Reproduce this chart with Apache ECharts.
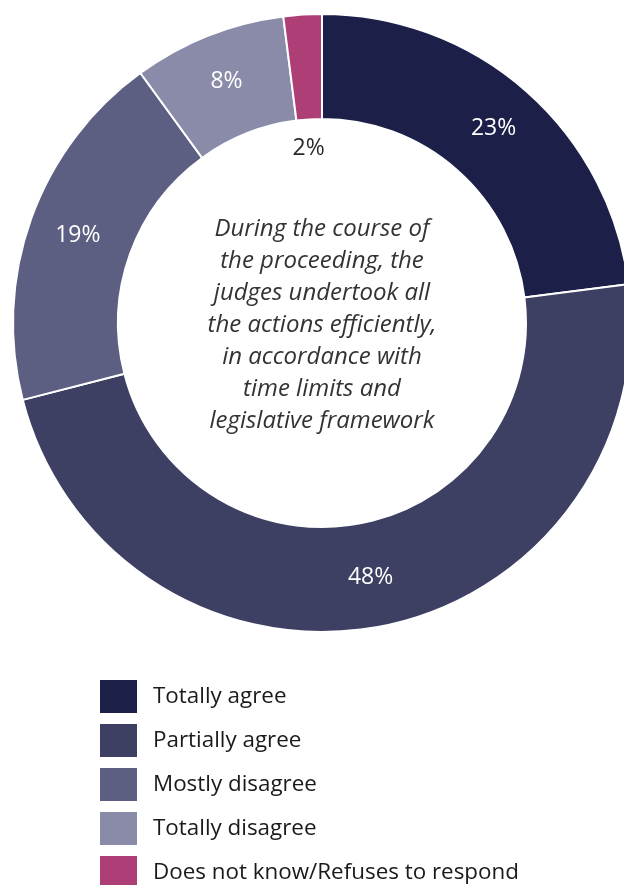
<!DOCTYPE html>
<html>
<head>
<meta charset="utf-8">
<script src="https://cdn.jsdelivr.net/npm/echarts@6/dist/echarts.min.js"></script>
<style>
  html, body { margin: 0; padding: 0; background: #ffffff; }
  #chart { width: 624px; height: 885px; }
</style>
</head>
<body>
<div id="chart"></div>
<script>
// Survey answers, in the order they run clockwise from 12 o'clock
const categories = [
  'Totally agree',
  'Partially agree',
  'Mostly disagree',
  'Totally disagree',
  'Does not know/Refuses to respond'
];
const shares = [23, 48, 19, 8, 2];
const colors = ['#1c1f48', '#3d3f63', '#5d5f82', '#898ba8', '#ae3e76'];
const question = [
  'During the course of',
  'the proceeding, the',
  'judges undertook all',
  'the actions efficiently,',
  'in accordance with',
  'time limits and',
  'legislative framework'
];

const FONT = '"Open Sans", "Noto Sans", sans-serif';
const CX = 322, CY = 323;

const pieData = categories.map((name, i) => {
  const item = {
    name: name,
    value: shares[i],
    itemStyle: { color: colors[i] }
  };
  // The smallest slice is too thin to hold its label, so it sits in the hole
  if (i === categories.length - 1) {
    item.label = { color: '#2a2a2a', offset: [3, 84] };
  }
  return item;
});

const chart = echarts.init(document.getElementById('chart'), null, { renderer: 'canvas' });

chart.setOption({
  backgroundColor: '#ffffff',
  animation: false,
  legend: {
    orient: 'vertical',
    left: 100,
    top: 680,
    height: 260,
    padding: 0,
    icon: 'rect',
    itemWidth: 37,
    itemHeight: 33,
    itemGap: 11,
    selectedMode: false,
    data: categories,
    itemStyle: { borderWidth: 0 },
    textStyle: {
      fontFamily: FONT,
      fontSize: 22.4,
      color: '#1a1a1a',
      padding: [0, 0, 0, 11]
    }
  },
  graphic: [{
    type: 'text',
    x: CX,
    y: CY + 2,
    style: {
      text: question.join('\n'),
      fontFamily: FONT,
      fontStyle: 'italic',
      fontSize: 24,
      lineHeight: 32,
      fill: '#333333',
      align: 'center',
      verticalAlign: 'middle'
    }
  }],
  series: [{
    type: 'pie',
    center: [CX, CY],
    radius: [204, 309],
    startAngle: 90,
    clockwise: true,
    avoidLabelOverlap: false,
    label: {
      show: true,
      position: 'inside',
      formatter: '{c}%',
      fontFamily: FONT,
      fontSize: 23,
      color: '#ffffff'
    },
    labelLine: { show: false },
    itemStyle: {
      borderColor: '#ffffff',
      borderWidth: 2
    },
    emphasis: { disabled: true },
    data: pieData
  }]
});
</script>
</body>
</html>
